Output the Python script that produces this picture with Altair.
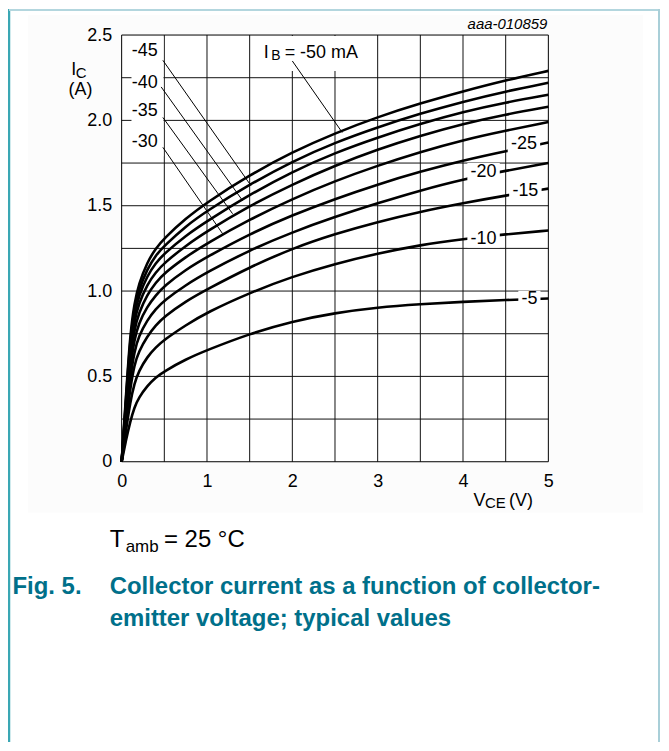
import altair as alt
import pandas as pd

FONT = "Liberation Sans"

# ---------------- data ----------------
vce = [0, 0.05, 0.1, 0.15, 0.2, 0.3, 0.4, 0.5, 0.75, 1, 1.5, 2, 2.5, 3, 3.5, 4, 4.5, 5]
ib_values = [-5, -10, -15, -20, -25, -30, -35, -40, -45, -50]
ic_m5 = [0, 0.125, 0.235, 0.32, 0.375, 0.445, 0.495, 0.53, 0.60, 0.654, 0.75, 0.823, 0.872, 0.905, 0.923, 0.937, 0.948, 0.956]
ic_m10 = [0, 0.18, 0.35, 0.46, 0.53, 0.615, 0.67, 0.715, 0.80, 0.875, 0.99, 1.085, 1.16, 1.22, 1.27, 1.305, 1.333, 1.355]
ic_m15 = [0, 0.22, 0.43, 0.57, 0.645, 0.735, 0.80, 0.85, 0.94, 1.01, 1.14, 1.25, 1.335, 1.405, 1.465, 1.515, 1.56, 1.60]
ic_m20 = [0, 0.25, 0.49, 0.65, 0.735, 0.83, 0.895, 0.945, 1.035, 1.11, 1.24, 1.345, 1.435, 1.515, 1.59, 1.655, 1.705, 1.75]
ic_m25 = [0, 0.28, 0.55, 0.72, 0.81, 0.91, 0.975, 1.03, 1.125, 1.20, 1.335, 1.445, 1.54, 1.625, 1.70, 1.765, 1.82, 1.87]
ic_m30 = [0, 0.30, 0.60, 0.78, 0.87, 0.98, 1.05, 1.105, 1.20, 1.28, 1.42, 1.54, 1.645, 1.735, 1.815, 1.885, 1.94, 1.99]
ic_m35 = [0, 0.32, 0.64, 0.83, 0.925, 1.04, 1.11, 1.165, 1.265, 1.35, 1.50, 1.625, 1.735, 1.83, 1.91, 1.98, 2.035, 2.08]
ic_m40 = [0, 0.34, 0.68, 0.87, 0.97, 1.09, 1.165, 1.22, 1.325, 1.41, 1.565, 1.70, 1.81, 1.90, 1.98, 2.05, 2.105, 2.15]
ic_m45 = [0, 0.36, 0.72, 0.90, 1.005, 1.13, 1.21, 1.265, 1.38, 1.47, 1.625, 1.76, 1.87, 1.96, 2.04, 2.11, 2.17, 2.22]
ic_m50 = [0, 0.38, 0.75, 0.93, 1.04, 1.17, 1.25, 1.31, 1.425, 1.52, 1.68, 1.815, 1.925, 2.02, 2.10, 2.17, 2.235, 2.29]
curves = [ic_m5, ic_m10, ic_m15, ic_m20, ic_m25, ic_m30, ic_m35, ic_m40, ic_m45, ic_m50]

x_ticks = [0, 1, 2, 3, 4, 5]
y_ticks = [0, 0.5, 1.0, 1.5, 2.0, 2.5]
grid_v = [0.5, 1, 1.5, 2, 2.5, 3, 3.5, 4, 4.5]
grid_h = [0.25, 0.5, 0.75, 1.0, 1.25, 1.5, 1.75, 2.0, 2.25]

# right-hand curve labels
right_labels = ["-25", "-20", "-15", "-10", "-5"]
right_v = [4.714, 4.241, 4.731, 4.241, 4.778]
right_i = [1.862, 1.700, 1.589, 1.305, 0.952]

# left-hand curve labels with leader lines
left_labels = ["-45", "-40", "-35", "-30"]
left_i = [2.407, 2.221, 2.056, 1.871]
lead_v1 = [0.483, 0.463, 0.483, 0.483, 2.0]
lead_i1 = [2.352, 2.196, 2.017, 1.842, 2.348]
lead_v2 = [1.515, 1.417, 1.300, 1.183, 2.585]
lead_i2 = [1.618, 1.530, 1.453, 1.336, 1.929]

# ---------------- tables ----------------
rows = []
for ib, series in zip(ib_values, curves):
    for v, i in zip(vce, series):
        rows.append({"V": v, "I": i, "IB": ib})
curve_df = pd.DataFrame(rows)

W = 428
H = 428
xs = alt.Scale(domain=[0, 5], nice=False, zero=False)
ys = alt.Scale(domain=[0, 2.5], nice=False, zero=False)
x_axis = alt.Axis(values=x_ticks, format="d", title=None, grid=False, domain=False,
                  ticks=False, labelPadding=11, labelFlush=False, labelFontSize=18,
                  labelFont=FONT, labelColor="black", zindex=2)
y_axis = alt.Axis(values=y_ticks, title=None, grid=False, domain=False, ticks=False,
                  labelExpr="datum.value == 0 ? '0' : format(datum.value, '.1f')",
                  labelPadding=10, labelFlush=False, labelFontSize=18, labelFont=FONT,
                  labelColor="black", zindex=2)


def X(f):
    return alt.X(f + ":Q", scale=xs, axis=x_axis)


def Y(f):
    return alt.Y(f + ":Q", scale=ys, axis=y_axis)


one = pd.DataFrame({"k": [0]})


def ptext(label, px, py, size, align="left", bold=False, italic=False, color="black", baseline="alphabetic"):
    return alt.Chart(pd.DataFrame({"label": [label]})).mark_text(
        font=FONT, fontSize=size, align=align, baseline=baseline, color=color,
        fontWeight="bold" if bold else "normal", fontStyle="italic" if italic else "normal"
    ).encode(x=alt.value(px), y=alt.value(py), text="label:N")


def dtext(label, v, i, size, align="left", baseline="alphabetic"):
    return alt.Chart(pd.DataFrame({"label": [label], "V": [v], "I": [i]})).mark_text(
        font=FONT, fontSize=size, align=align, baseline=baseline, color="black"
    ).encode(x=X("V"), y=Y("I"), text="label:N")


layers = []
# faint page panel
layers.append(alt.Chart(one).mark_rect(fill="#fcfcfc").encode(
    x=alt.value(-94), x2=alt.value(523), y=alt.value(-20), y2=alt.value(479)))
# white plot area
layers.append(alt.Chart(one).mark_rect(fill="white").encode(
    x=alt.value(0), x2=alt.value(W), y=alt.value(0), y2=alt.value(H)))
# grid
layers.append(alt.Chart(pd.DataFrame({"V": grid_v})).mark_rule(color="#111", strokeWidth=1).encode(
    x=X("V"), y=alt.value(0), y2=alt.value(H)))
layers.append(alt.Chart(pd.DataFrame({"I": grid_h})).mark_rule(color="#111", strokeWidth=1).encode(
    y=Y("I"), x=alt.value(0), x2=alt.value(W)))
# curves
layers.append(alt.Chart(curve_df).mark_line(color="black", strokeWidth=2.6, interpolate="basis").encode(
    x=X("V"), y=Y("I"), detail="IB:N"))

# white label boxes
rb = pd.DataFrame({
    "V": [v - (0.13 if len(l) == 2 else 0.19) for v, l in zip(right_v, right_labels)],
    "V2": [v + (0.13 if len(l) == 2 else 0.19) for v, l in zip(right_v, right_labels)],
    "I": [i - 0.05 for i in right_i],
    "I2": [i + 0.05 for i in right_i],
})
layers.append(alt.Chart(rb).mark_rect(fill="white").encode(x=X("V"), x2="V2", y=Y("I"), y2="I2"))
lb = pd.DataFrame({"V": [0.115, 1.64], "V2": [0.49, 2.86], "I": [1.79, 2.29], "I2": [2.49, 2.495]})
layers.append(alt.Chart(lb).mark_rect(fill="white").encode(x=X("V"), x2="V2", y=Y("I"), y2="I2"))

# leader lines
lead = pd.DataFrame({"V": lead_v1, "I": lead_i1, "V2": lead_v2, "I2": lead_i2})
layers.append(alt.Chart(lead).mark_rule(color="black", strokeWidth=1).encode(
    x=X("V"), y=Y("I"), x2="V2", y2="I2"))

# curve labels
for l, v, i in zip(right_labels, right_v, right_i):
    layers.append(dtext(l, v, i, 18, align="center", baseline="middle"))
for l, i in zip(left_labels, left_i):
    layers.append(dtext(l, 0.118, i, 18, align="left", baseline="middle"))
layers.append(dtext("I", 1.665, 2.367, 18))
layers.append(dtext("B", 1.752, 2.352, 14))
layers.append(dtext("= -50 mA", 1.91, 2.367, 18))

# plot frame
layers.append(alt.Chart(one).mark_rect(filled=False, stroke="black", strokeWidth=1).encode(
    x=alt.value(0), x2=alt.value(W), y=alt.value(0), y2=alt.value(H)))

# axis titles and notes
layers.append(ptext("I", -50.5, 40, 18))
layers.append(ptext("C", -46, 43, 15))
layers.append(ptext("(A)", -41.2, 60.5, 18, align="center"))
layers.append(ptext("V", 353, 472.7, 18))
layers.append(ptext("CE", 364.5, 474.5, 15))
layers.append(ptext("(V)", 388.5, 472.7, 18))
layers.append(ptext("aaa-010859", 427, -6, 15, align="right", italic=True))
layers.append(ptext("T", -12, 514, 24))
layers.append(ptext("amb", 4, 519, 17))
layers.append(ptext("= 25 °C", 42.5, 514, 24))
teal = "#00708a"
layers.append(ptext("Fig. 5.", -109.5, 561, 24, bold=True, color=teal))
layers.append(ptext("Collector current as a function of collector-", -12, 561, 24, bold=True, color=teal))
layers.append(ptext("emitter voltage; typical values", -12, 593, 24, bold=True, color=teal))

# page frame lines
layers.append(alt.Chart(one).mark_rule(color="#3aa7b4", strokeWidth=2.5).encode(
    x=alt.value(-113), y=alt.value(-26), y2=alt.value(709)))
layers.append(alt.Chart(one).mark_rule(color="#b3d6de", strokeWidth=2).encode(
    x=alt.value(-113), x2=alt.value(540), y=alt.value(-25)))
layers.append(alt.Chart(one).mark_rule(color="#a9cfd8", strokeWidth=2).encode(
    x=alt.value(539), y=alt.value(-26), y2=alt.value(709)))

chart = alt.layer(*layers).properties(
    width=W, height=H,
    padding={"left": 114, "top": 26, "right": 113, "bottom": 281},
    autosize=alt.AutoSizeParams(type="none"),
    background="white",
).configure_view(stroke=None)

chart.save("out.html", embed_options={"renderer": "svg", "actions": False})
